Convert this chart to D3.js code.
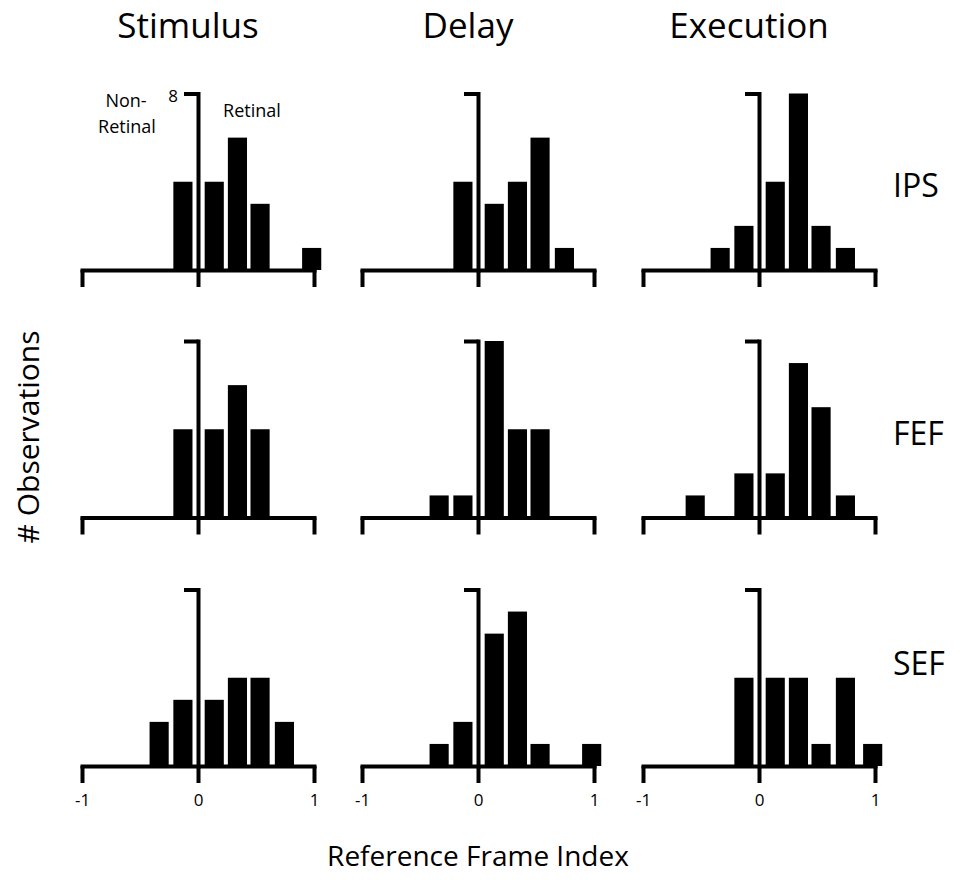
<!DOCTYPE html>
<html>
<head>
<meta charset="utf-8">
<script src="https://cdn.jsdelivr.net/npm/d3@7"></script>
<style>
  body { margin: 0; background: #fff; }
  text { font-family: "Open Sans", Lato, sans-serif; fill: #000; }
</style>
</head>
<body>
<div id="chart"></div>
<script>
// Data
const epochs = ["Stimulus", "Delay", "Execution"];
const regions = ["IPS", "FEF", "SEF"];
const binCenters = [-0.55, -0.335, -0.13, 0.14, 0.34, 0.535, 0.745, 0.98];
const ipsCounts = [
    [0, 0, 4, 4, 6, 3, 0, 1],
    [0, 0, 4, 3, 4, 6, 1, 0],
    [0, 1, 2, 4, 8, 2, 1, 0]
];
const fefCounts = [
    [0, 0, 4, 4, 6, 4, 0, 0],
    [0, 1, 1, 8, 4, 4, 0, 0],
    [1, 0, 2, 2, 7, 5, 1, 0]
];
const sefCounts = [
    [0, 2, 3, 3, 4, 4, 2, 0],
    [0, 1, 2, 6, 7, 1, 0, 1],
    [0, 0, 4, 4, 4, 1, 4, 1]
];
const xTicks = [-1, 0, 1];
const yMax = 8;

const counts = [ipsCounts, fefCounts, sefCounts];

const width = 960, height = 890;
const colLeft = [82, 362, 643];
const panelW = 232;
const rowTop = [93.5, 341, 589.5];
const panelH = 176.5;
const barW = 0.165;

const svg = d3.select("#chart")
    .append("svg")
    .attr("width", width)
    .attr("height", height);

regions.forEach((region, r) => {
    epochs.forEach((epoch, c) => {
        const x = d3.scaleLinear().domain([-1, 1]).range([colLeft[c], colLeft[c] + panelW]);
        const y = d3.scaleLinear().domain([0, yMax]).range([rowTop[r] + panelH, rowTop[r]]);

        const g = svg.append("g");

        const bins = binCenters.map((b, i) => ({ center: b, n: counts[r][c][i] }))
            .filter(d => d.n > 0);

        // bars
        g.selectAll("rect")
            .data(bins)
            .join("rect")
            .attr("x", d => x(d.center - barW / 2))
            .attr("width", d => x(d.center + barW / 2) - x(d.center - barW / 2))
            .attr("y", d => y(d.n))
            .attr("height", d => y(0) - y(d.n))
            .attr("fill", "#000");

        // x axis
        const xAxis = g.append("g")
            .attr("transform", `translate(0,${y(0)})`)
            .call(d3.axisBottom(x).tickValues(xTicks).tickSize(17).tickSizeOuter(0));
        xAxis.select(".domain").attr("stroke-width", 4).attr("stroke-linecap", "square");
        xAxis.selectAll(".tick line").attr("stroke-width", 4);
        xAxis.selectAll(".tick text")
            .attr("y", 40)
            .attr("dy", 0)
            .style("font-size", "17px")
            .text(d => r === 2 ? (d < 0 ? "-" + Math.abs(d) : d) : "");

        // y axis at x = 0
        const yAxis = g.append("g")
            .attr("transform", `translate(${x(0)},0)`)
            .call(d3.axisLeft(y).tickValues([yMax]).tickSize(14).tickSizeOuter(0).tickPadding(6)
                .tickFormat(r === 0 && c === 0 ? d3.format("d") : ""));
        yAxis.select(".domain").attr("stroke-width", 4).attr("stroke-linecap", "square");
        yAxis.selectAll(".tick line").attr("stroke-width", 4);
        yAxis.selectAll(".tick text")
            .attr("dy", "0.45em")
            .style("font-size", "17px");

        if (r === 0 && c === 0) {
            g.append("text")
                .attr("x", 126).attr("y", 107)
                .attr("text-anchor", "middle")
                .style("font-size", "18px")
                .text("Non-");
            g.append("text")
                .attr("x", 127).attr("y", 133)
                .attr("text-anchor", "middle")
                .style("font-size", "18px")
                .text("Retinal");
            g.append("text")
                .attr("x", 252).attr("y", 117)
                .attr("text-anchor", "middle")
                .style("font-size", "18px")
                .text("Retinal");
        }

        if (r === 0) {
            svg.append("text")
                .attr("x", x(0) - 10).attr("y", 38)
                .attr("text-anchor", "middle")
                .style("font-size", "35px")
                .text(epoch);
        }
    });

    svg.append("text")
        .attr("x", 893)
        .attr("y", [197, 445, 675][r])
        .style("font-size", "32px")
        .text(region);
});

// axis titles
svg.append("text")
    .attr("transform", "translate(39,437) rotate(-90)")
    .attr("text-anchor", "middle")
    .style("font-size", "30px")
    .text("# Observations");

svg.append("text")
    .attr("x", 478).attr("y", 866)
    .attr("text-anchor", "middle")
    .style("font-size", "28px")
    .text("Reference Frame Index");
</script>
</body>
</html>
